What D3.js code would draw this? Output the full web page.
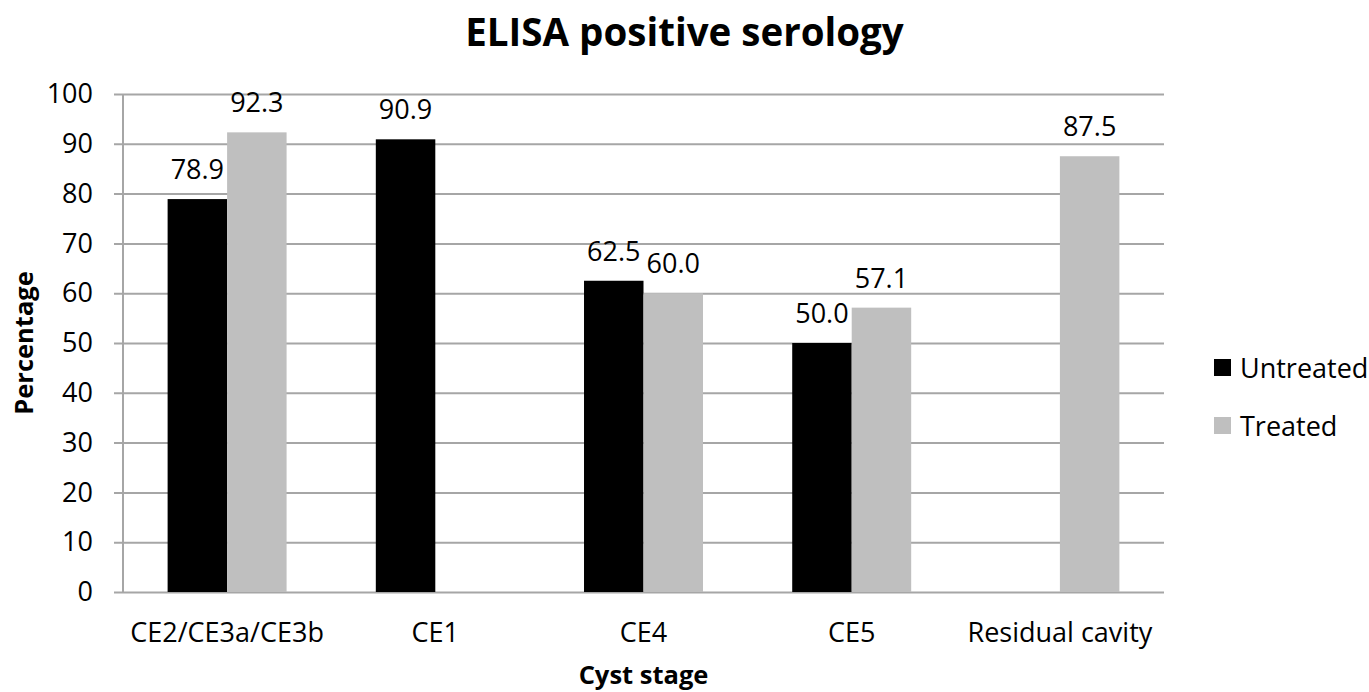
<html lang="en">
<head>
  <meta charset="UTF-8">
  <title>ELISA positive serology</title>
  <style>
    body { margin: 0; background: #fff; }
    svg text { font-family: "Open Sans", Lato, sans-serif; fill: #000; }
    .grid line { stroke: #a6a6a6; stroke-width: 2; }
    .grid text { font-size: 27px; }
    .cat-label { font-size: 27px; }
    .val-label { font-size: 27px; }
    .legend text { font-size: 27px; }
    .title { font-size: 38.5px; font-weight: bold; }
    .axis-title { font-size: 25.5px; font-weight: bold; }
  </style>
</head>
<body>
  <div id="chart"></div>
  <script src="https://d3js.org/d3.v7.min.js"></script>
  <script>
    // data
    const categories = ["CE2/CE3a/CE3b", "CE1", "CE4", "CE5", "Residual cavity"];
    const seriesNames = ["Untreated", "Treated"];
    const untreated = [78.9, 90.9, 62.5, 50.0, null];
    const treated = [92.3, null, 60.0, 57.1, 87.5];
    const seriesColors = ["#000000", "#bfbfbf"];
    const yTicks = [0, 10, 20, 30, 40, 50, 60, 70, 80, 90, 100];

    const w = 1369, h = 692;
    const plotLeft = 123, plotRight = 1164, plotTop = 94, plotBottom = 592;

    const svg = d3.select("#chart").append("svg")
      .attr("width", w)
      .attr("height", h);

    const x0 = d3.scaleBand()
      .domain(categories)
      .range([plotLeft, plotRight])
      .paddingInner(0)
      .paddingOuter(0);

    // excel style: gap width 150%
    const x1 = d3.scaleBand()
      .domain(seriesNames)
      .range([0, x0.bandwidth()])
      .paddingInner(0)
      .paddingOuter(0.75);

    const y = d3.scaleLinear()
      .domain([0, 100])
      .range([plotBottom, plotTop]);

    const color = d3.scaleOrdinal().domain(seriesNames).range(seriesColors);

    // gridlines + y tick labels
    const yAxis = d3.axisLeft(y)
      .tickValues(yTicks)
      .tickSize(-(plotRight - plotLeft + 9))
      .tickPadding(21)
      .tickFormat(d3.format("d"));
    const g = svg.append("g")
      .attr("class", "grid")
      .attr("transform", "translate(" + (plotLeft - 9) + ",0)")
      .call(yAxis);
    g.select(".domain").remove();

    // vertical axis line
    svg.append("line")
      .attr("x1", plotLeft).attr("x2", plotLeft)
      .attr("y1", y(100)).attr("y2", y(0))
      .attr("stroke", "#a6a6a6")
      .attr("stroke-width", 2);

    // flatten rows for the bars
    const rows = [];
    categories.forEach((c, i) => {
      rows.push({ cat: c, series: "Untreated", value: untreated[i] });
      rows.push({ cat: c, series: "Treated", value: treated[i] });
    });
    const present = rows.filter(d => d.value !== null);

    svg.selectAll("rect.bar")
      .data(present)
      .enter()
      .append("rect")
      .attr("class", "bar")
      .attr("x", d => x0(d.cat) + x1(d.series))
      .attr("y", d => y(d.value))
      .attr("width", x1.bandwidth())
      .attr("height", d => y(0) - y(d.value))
      .attr("fill", d => color(d.series));

    svg.selectAll("text.val-label")
      .data(present)
      .enter()
      .append("text")
      .attr("class", "val-label")
      .attr("text-anchor", "middle")
      .attr("x", d => x0(d.cat) + x1(d.series) + x1.bandwidth() / 2)
      .attr("y", d => y(d.value) - 20)
      .text(d => d3.format(".1f")(d.value));

    // category labels
    svg.selectAll("text.cat-label")
      .data(categories)
      .enter()
      .append("text")
      .attr("class", "cat-label")
      .attr("text-anchor", "middle")
      .attr("x", d => x0(d) + x0.bandwidth() / 2)
      .attr("y", 642)
      .text(d => d);

    // titles
    svg.append("text")
      .attr("class", "title")
      .attr("text-anchor", "middle")
      .attr("x", w / 2)
      .attr("y", 46)
      .text("ELISA positive serology");

    svg.append("text")
      .attr("class", "axis-title")
      .attr("text-anchor", "middle")
      .attr("x", (plotLeft + plotRight) / 2)
      .attr("y", 684)
      .text("Cyst stage");

    svg.append("text")
      .attr("class", "axis-title")
      .attr("text-anchor", "middle")
      .attr("transform", "translate(33," + (plotTop + plotBottom) / 2 + ") rotate(-90)")
      .text("Percentage");

    // legend
    const legend = svg.append("g").attr("class", "legend");
    const lg = legend.selectAll("g")
      .data(seriesNames)
      .enter()
      .append("g")
      .attr("transform", (d, i) => "translate(1214," + (359 + i * 58) + ")");
    lg.append("rect")
      .attr("width", 17)
      .attr("height", 17)
      .attr("fill", d => color(d));
    lg.append("text")
      .attr("x", 26)
      .attr("y", 19)
      .text(d => d);
  </script>
</body>
</html>
